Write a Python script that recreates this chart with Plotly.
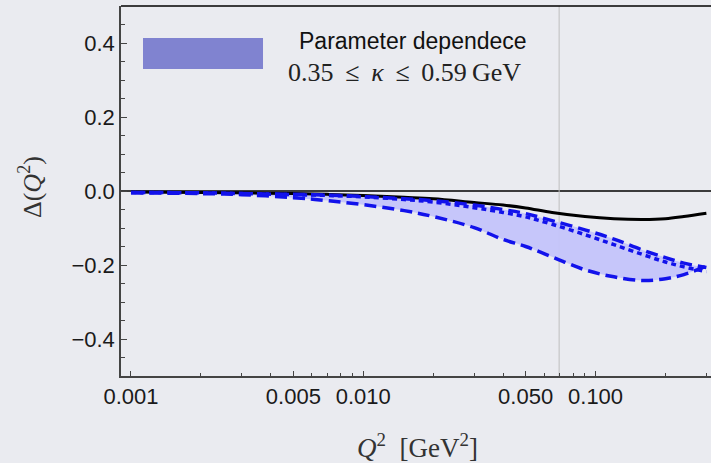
import plotly.graph_objects as go

# Momentum transfer grid, GeV^2
q2 = [0.001, 0.002, 0.003, 0.005, 0.007, 0.01, 0.015, 0.02, 0.03, 0.04,
      0.05, 0.065, 0.09, 0.12, 0.16, 0.2, 0.24, 0.3]

# Central result (solid black)
delta_central = [-0.003, -0.004, -0.005, -0.007, -0.009, -0.012, -0.017, -0.021,
                 -0.031, -0.038, -0.046, -0.058, -0.069, -0.075, -0.077, -0.075,
                 -0.069, -0.060]

# kappa variation: upper edge (dashed), intermediate (dotted), lower edge (dashed)
delta_upper = [-0.004, -0.005, -0.007, -0.009, -0.011, -0.015, -0.021, -0.026,
               -0.038, -0.050, -0.061, -0.080, -0.105, -0.130, -0.160, -0.180,
               -0.195, -0.207]
delta_mid = [-0.004, -0.005, -0.007, -0.010, -0.012, -0.016, -0.023, -0.030,
             -0.045, -0.058, -0.070, -0.090, -0.118, -0.145, -0.172, -0.192,
             -0.205, -0.218]
delta_lower = [-0.005, -0.007, -0.010, -0.018, -0.026, -0.037, -0.053, -0.069,
               -0.099, -0.131, -0.150, -0.178, -0.213, -0.232, -0.242, -0.237,
               -0.226, -0.203]

x_ticks = [0.001, 0.005, 0.01, 0.05, 0.1]
x_ticktext = ["0.001", "0.005", "0.010", "0.050", "0.100"]
x_minor = [0.002, 0.003, 0.004, 0.006, 0.007, 0.008, 0.009,
           0.02, 0.03, 0.04, 0.06, 0.07, 0.08, 0.09, 0.2, 0.3]
y_ticks = [-0.4, -0.2, 0.0, 0.2, 0.4]
x_marker_line = 0.0697

BG = "rgb(234,235,240)"
BLUE = "rgb(18,18,235)"
FILL = "rgba(196,196,250,0.95)"
SANS = "Liberation Sans, Arial, sans-serif"
SERIF = "Liberation Serif, Times New Roman, serif"

fig = go.Figure()

# Band between the two dashed edges
fig.add_trace(go.Scatter(x=q2, y=delta_upper, mode="lines", line=dict(width=0, shape="spline"),
                         showlegend=False, hoverinfo="skip"))
fig.add_trace(go.Scatter(x=q2, y=delta_lower, mode="lines", line=dict(width=0, shape="spline"),
                         fill="tonexty", fillcolor=FILL, showlegend=False, hoverinfo="skip"))

fig.add_trace(go.Scatter(x=q2, y=delta_central, mode="lines",
                         line=dict(color="black", width=3, shape="spline"), showlegend=False))
fig.add_trace(go.Scatter(x=q2, y=delta_lower, mode="lines",
                         line=dict(color=BLUE, width=3.5, shape="spline", dash="12px,6px"),
                         showlegend=False))
fig.add_trace(go.Scatter(x=q2, y=delta_mid, mode="lines",
                         line=dict(color=BLUE, width=3.5, shape="spline", dash="5px,4px"),
                         showlegend=False))
fig.add_trace(go.Scatter(x=q2, y=delta_upper, mode="lines",
                         line=dict(color=BLUE, width=3.5, shape="spline", dash="12px,6px"),
                         showlegend=False))

# Zero line and vertical reference line
fig.add_shape(type="line", xref="paper", yref="y", x0=0, x1=1, y0=0, y1=0,
              line=dict(color="black", width=1.5), layer="below")
fig.add_shape(type="line", xref="x", yref="paper", x0=x_marker_line, x1=x_marker_line,
              y0=0, y1=1, line=dict(color="rgb(190,190,190)", width=1), layer="below")
# Top frame line
fig.add_shape(type="line", xref="paper", yref="paper", x0=0, x1=1, y0=1, y1=1,
              line=dict(color="black", width=1.5))

# Legend swatch and text
fig.add_shape(type="rect", xref="paper", yref="paper", x0=0.0373, x1=0.2407,
              y0=0.8297, y1=0.9135, line=dict(width=0), fillcolor="rgb(128,131,208)")
fig.add_annotation(xref="paper", yref="paper", x=0.495, y=0.905, text="Parameter dependece",
                   showarrow=False, font=dict(family=SANS, size=23, color="#111"),
                   xanchor="center", yanchor="middle")
fig.add_annotation(xref="paper", yref="paper", x=0.481, y=0.8216,
                   text="0.35\u2009 ≤ \u2009<i>κ</i>\u2009 ≤ \u20090.59\u2009GeV",
                   showarrow=False, font=dict(family=SERIF, size=26, color="#222"),
                   xanchor="center", yanchor="middle")

# Axis titles
fig.add_annotation(xref="paper", yref="paper", x=-0.153, y=0.51, text="Δ(<i>Q</i><sup>2</sup>)",
                   textangle=-90, showarrow=False, font=dict(family=SERIF, size=26, color="#333"),
                   xanchor="center", yanchor="middle")
fig.add_annotation(xref="paper", yref="paper", x=0.503, y=-0.19,
                   text="<i>Q</i><sup>2</sup>\u2002[GeV<sup>2</sup>]",
                   showarrow=False, font=dict(family=SERIF, size=27, color="#333"),
                   xanchor="center", yanchor="middle")

fig.update_layout(
    width=711, height=463,
    margin=dict(l=121, r=0, t=6, b=87),
    paper_bgcolor=BG, plot_bgcolor=BG,
    showlegend=False,
)
fig.update_xaxes(
    type="log", range=[-3.043, -0.503],
    tickvals=x_ticks, ticktext=x_ticktext,
    ticks="inside", ticklen=5, tickwidth=1, tickcolor="#444",
    minor=dict(tickvals=x_minor, ticks="inside", ticklen=3, tickcolor="#444", showgrid=False),
    showgrid=False, zeroline=False,
    showline=True, linecolor="#444", linewidth=1.5,
    tickfont=dict(family=SANS, size=22, color="#1a1a1a"),
)
fig.update_yaxes(
    range=[-0.5, 0.5],
    tickvals=y_ticks, tickformat=".1f",
    ticks="inside", ticklen=6, tickwidth=1, tickcolor="#444",
    minor=dict(dtick=0.05, ticks="inside", ticklen=4, tickcolor="#444", showgrid=False),
    showgrid=False, zeroline=False,
    showline=True, linecolor="#444", linewidth=1.5,
    tickfont=dict(family=SANS, size=22, color="#1a1a1a"),
)

fig.write_html("out.html")
